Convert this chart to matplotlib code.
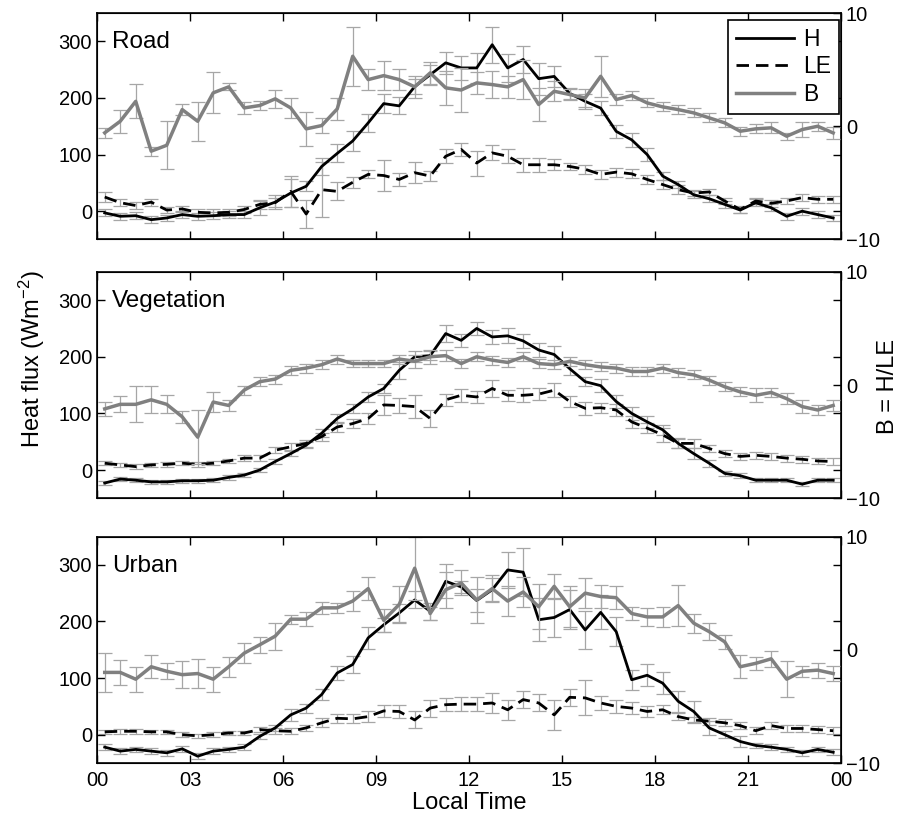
import numpy as np
import matplotlib
matplotlib.use('Agg')
import matplotlib.pyplot as plt
from matplotlib.lines import Line2D

plt.rcParams['font.family'] = ['Liberation Sans', 'DejaVu Sans']
plt.rcParams['mathtext.default'] = 'regular'

# half-hour means, centred on the half hour
t = np.arange(48) * 0.5 + 0.25

# Road
road_H = [-3, -9, -8, -15, -12, -6, -9, -8, -6, -6,
          6, 16, 32, 44, 79, 102, 124, 156, 190, 186,
          220, 241, 262, 253, 253,
          294, 253, 268, 234, 238, 208, 194, 182, 141, 126,
          100, 62, 47, 29, 22, 12, 2, 15, 6, -9, 0, -6, -12]
road_He = [6, 6, 6, 6, 6, 6, 6, 6, 6, 6,
           12, 13, 25, 9, 15, 16, 18, 16, 17, 15,
           13, 18, 19, 21, 26,
           32, 24, 24, 28, 18, 9, 13, 12, 12, 12,
           12, 7, 6, 6, 6, 6, 6, 6, 6, 6, 6, 6, 6]
road_LE = [25, 15, 10, 16, 2, 4, -2, -3, -2, 3,
           12, 15, 35, -5, 38, 35, 51, 65, 63, 56,
           68, 62, 97, 109, 85,
           103, 97, 82, 82, 82, 79, 74, 65, 69, 66,
           56, 47, 38, 32, 34, 18, 3, 18, 14, 18, 24, 21, 21]
road_LEe = [8, 6, 6, 6, 6, 6, 6, 6, 6, 6,
            8, 8, 28, 24, 48, 16, 10, 7, 28, 11,
            19, 9, 12, 12, 22,
            13, 12, 12, 12, 10, 6, 8, 8, 8, 8,
            8, 8, 8, 6, 6, 6, 6, 6, 6, 6, 6, 6, 6]
road_B = [-0.58, 0.44, 2.2, -2.2, -1.68, 1.47, 0.44, 2.95, 3.48, 1.62,
          1.83, 2.42, 1.62, -0.23, 0.06, 1.53, 6.18, 4.12, 4.47, 4.12,
          3.48, 4.71, 3.39, 3.2, 3.83,
          3.68, 3.48, 4.12, 1.92, 3.09, 2.8, 2.5, 4.41, 2.36, 2.71,
          2.06, 1.71, 1.47, 1.18, 0.74, 0.3, -0.44, -0.23, -0.14, -0.88, -0.29, 0.0, -0.59]
road_Be = [0.44, 1.0, 1.5, 0.4, 2.1, 0.5, 1.7, 1.8, 0.3, 0.5,
           0.4, 0.8, 0.9, 1.5, 0.7, 1.0, 2.6, 0.9, 1.3, 0.9,
           1.0, 1.0, 1.5, 1.9, 1.0,
           1.2, 1.0, 1.7, 1.5, 0.9, 0.5, 0.8, 1.8, 0.5, 0.4,
           0.4, 0.4, 0.4, 0.4, 0.4, 0.4, 0.4, 0.4, 0.5, 0.3, 0.7, 0.4, 0.5]

# Vegetation
veg_H = [-23, -16, -18, -21, -21, -19, -19, -18, -13, -9,
         0, 15, 29, 44, 65, 91, 108, 129, 144, 176,
         200, 202, 241, 229, 250,
         235, 237, 228, 212, 204, 179, 156, 149, 121, 100,
         85, 71, 47, 29, 12, -6, -10, -18, -18, -18, -25, -18, -18]
veg_He = [4, 4, 4, 4, 4, 4, 4, 4, 4, 4,
          4, 5, 5, 6, 7, 8, 8, 8, 8, 15,
          10, 8, 15, 11, 12,
          12, 13, 13, 13, 15, 12, 8, 12, 12, 12,
          10, 9, 9, 9, 6, 4, 4, 4, 4, 4, 4, 4, 4]
veg_LE = [12, 9, 6, 9, 10, 12, 10, 12, 16, 21,
          21, 35, 41, 47, 59, 76, 82, 91, 115, 114,
          112, 91, 124, 132, 129,
          144, 132, 132, 134, 141, 121, 109, 110, 106, 85,
          74, 62, 47, 47, 38, 29, 24, 26, 24, 21, 19, 16, 15]
veg_LEe = [4, 4, 4, 4, 4, 4, 4, 4, 4, 5,
           5, 5, 6, 6, 7, 8, 8, 10, 18, 13,
           20, 15, 11, 11, 10,
           15, 10, 12, 10, 12, 9, 12, 9, 10, 11,
           9, 12, 8, 8, 7, 6, 6, 6, 6, 6, 6, 6, 6]
veg_B = [-2.1, -1.7, -1.7, -1.3, -1.7, -2.8, -4.6, -1.5, -1.8, -0.44,
         0.3, 0.53, 1.3, 1.5, 1.8, 2.3, 1.9, 1.9, 1.9, 2.3,
         2.1, 2.5, 2.6, 1.9, 2.5,
         2.2, 2.0, 2.5, 1.9, 1.8, 2.1, 1.8, 1.6, 1.5, 1.2,
         1.2, 1.5, 1.1, 0.9, 0.44, -0.15, -0.6, -0.9, -0.65, -1.2, -1.9, -2.2, -1.8]
veg_Be = [0.6, 0.7, 1.6, 1.2, 0.8, 0.55, 2.4, 0.9, 0.5, 0.4,
          0.4, 0.4, 0.4, 0.4, 0.4, 0.4, 0.3, 0.3, 0.3, 0.4,
          0.6, 0.6, 0.5, 0.4, 0.4,
          0.4, 0.4, 0.4, 0.4, 0.4, 0.4, 0.4, 0.4, 0.4, 0.4,
          0.4, 0.4, 0.4, 0.4, 0.4, 0.4, 0.4, 0.6, 0.4, 0.5, 0.6, 0.4, 0.5]

# Urban
urb_H = [-22, -29, -26, -29, -32, -25, -38, -29, -26, -22,
         -3, 12, 35, 47, 71, 109, 124, 171, 194, 215,
         238, 218, 271, 261, 237,
         256, 291, 287, 203, 207, 221, 185, 216, 182, 97,
         105, 91, 59, 41, 12, 0, -12, -19, -22, -26, -32, -26, -31]
urb_He = [5, 5, 5, 5, 5, 5, 5, 5, 5, 5,
          5, 6, 10, 8, 10, 12, 15, 20, 12, 16,
          15, 15, 30, 10, 20,
          20, 32, 42, 38, 35, 35, 34, 30, 26, 18,
          19, 20, 19, 19, 12, 6, 9, 5, 5, 5, 5, 5, 5]
urb_LE = [5, 6, 6, 5, 5, 0, -2, 0, 3, 3,
          9, 7, 6, 12, 21, 29, 28, 32, 42, 41,
          26, 47, 53, 54, 54,
          56, 44, 62, 56, 35, 66, 65, 56, 50, 47,
          41, 44, 32, 26, 24, 21, 16, 7, 16, 11, 11, 9, 7]
urb_LEe = [4, 4, 4, 4, 4, 4, 4, 4, 4, 4,
           5, 5, 5, 6, 8, 8, 8, 10, 11, 11,
           15, 15, 12, 13, 13,
           17, 18, 15, 15, 27, 15, 31, 13, 12, 10,
           9, 8, 6, 6, 6, 6, 6, 6, 6, 6, 6, 6, 6]
urb_B = [-2.0, -2.0, -2.6, -1.5, -1.9, -2.2, -2.1, -2.6, -1.5, -0.3,
         0.44, 1.2, 2.7, 2.7, 3.7, 3.7, 4.3, 5.4, 2.6, 4.0,
         7.2, 3.2, 5.3, 5.9, 4.4,
         5.4, 4.3, 5.1, 3.8, 5.6, 3.8, 5.0, 4.7, 4.6, 3.2,
         2.9, 2.9, 3.9, 2.35, 1.6, 0.7, -1.5, -1.2, -0.8, -2.6, -1.9, -1.8, -2.1]
urb_Be = [1.7, 1.1, 1.1, 1.0, 0.7, 1.2, 1.3, 1.1, 0.9, 0.9,
          0.7, 1.2, 0.4, 0.6, 0.5, 0.45, 0.9, 1.0, 1.0, 1.6,
          2.8, 0.6, 1.6, 1.1, 2.0,
          1.2, 1.3, 1.3, 2.0, 1.1, 1.8, 1.3, 1.0, 1.0, 0.6,
          0.8, 0.9, 1.8, 0.85, 0.75, 0.6, 1.0, 0.6, 0.7, 1.6, 0.5, 0.65, 0.65]

site_names = ['Road', 'Vegetation', 'Urban']
H_all = [road_H, veg_H, urb_H]
He_all = [road_He, veg_He, urb_He]
LE_all = [road_LE, veg_LE, urb_LE]
LEe_all = [road_LEe, veg_LEe, urb_LEe]
B_all = [road_B, veg_B, urb_B]
Be_all = [road_Be, veg_Be, urb_Be]

xtick_pos = list(range(0, 25, 3))
xtick_labels = ['00', '03', '06', '09', '12', '15', '18', '21', '00']

fig = plt.figure(figsize=(9.02, 8.23), dpi=100)
bottoms = [0.709, 0.3945, 0.0729]
ecol = '#a6a6a6'
bcol = '#808080'
dash = (0, (4.5, 2.5))

for k in range(3):
    ax = fig.add_axes([0.1075, bottoms[k], 0.8248, 0.2752])
    ax2 = ax.twinx()
    ax.errorbar(t, H_all[k], yerr=He_all[k], fmt='none', ecolor=ecol,
                elinewidth=0.9, capsize=5, capthick=0.9, zorder=1)
    ax.errorbar(t, LE_all[k], yerr=LEe_all[k], fmt='none', ecolor=ecol,
                elinewidth=0.9, capsize=5, capthick=0.9, zorder=1)
    ax.plot(t, H_all[k], color='black', lw=2, zorder=3)
    ax.plot(t, LE_all[k], color='black', lw=2, ls=dash, zorder=3)
    ax2.errorbar(t, B_all[k], yerr=Be_all[k], fmt='none', ecolor=ecol,
                 elinewidth=0.9, capsize=5, capthick=0.9, zorder=1)
    ax2.plot(t, B_all[k], color=bcol, lw=2.5, zorder=2)

    ax.set_xlim(0, 24)
    ax.set_ylim(-50, 350)
    ax.set_yticks([0, 100, 200, 300])
    ax.set_xticks(xtick_pos)
    if k == 2:
        ax.set_xticklabels(xtick_labels)
        ax.set_xlabel('Local Time', fontsize=17, labelpad=1)
    else:
        ax.set_xticklabels([])
    ax.tick_params(direction='in', length=6, top=True, right=True,
                   labelsize=14.5, width=1)
    ax.tick_params(axis='x', pad=6)
    ax2.set_ylim(-10, 10)
    ax2.set_yticks([-10, 0, 10])
    ax2.tick_params(direction='in', length=6, labelsize=14.5, width=1)
    for sp in ax.spines.values():
        sp.set_linewidth(1.2)
    ax.text(0.02, 0.87, site_names[k], transform=ax.transAxes,
            fontsize=17.5, va='center', ha='left')

    if k == 0:
        handles = [Line2D([], [], color='black', lw=2),
                   Line2D([], [], color='black', lw=2, ls=dash),
                   Line2D([], [], color=bcol, lw=2.5)]
        leg = ax2.legend(handles, ['H', 'LE', 'B'], loc='upper right',
                         bbox_to_anchor=(0.997, 0.97), borderaxespad=0,
                         fontsize=16.5, handlelength=2.5, handletextpad=0.4,
                         labelspacing=0.2, fancybox=False, framealpha=1,
                         edgecolor='black', borderpad=0.35)
        leg.get_frame().set_linewidth(1.2)

fig.text(0.035, 0.564, 'Heat flux (Wm$^{-2}$)', rotation=90,
         fontsize=17, va='center', ha='center')
fig.text(0.985, 0.531, 'B = H/LE', rotation=90,
         fontsize=17, va='center', ha='center')

plt.savefig('out.png', dpi=100)
plt.close()
